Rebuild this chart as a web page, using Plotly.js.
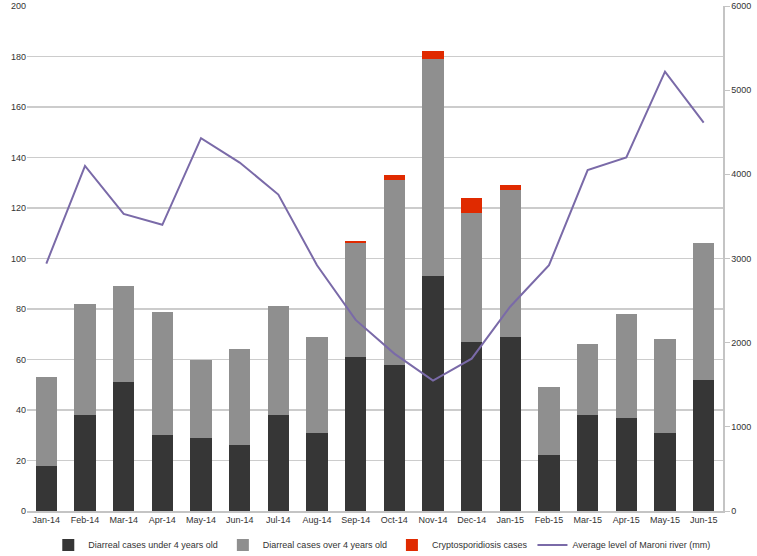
<!DOCTYPE html>
<html>
<head>
<meta charset="utf-8">
<script src="https://cdn.plot.ly/plotly-3.0.1.min.js"></script>
<style>html,body{margin:0;padding:0;background:#fff;}#chart{width:757px;height:556px;}</style>
</head>
<body>
<div id="chart"></div>
<script>
const months = ["Jan-14","Feb-14","Mar-14","Apr-14","May-14","Jun-14","Jul-14","Aug-14","Sep-14","Oct-14","Nov-14","Dec-14","Jan-15","Feb-15","Mar-15","Apr-15","May-15","Jun-15"];
const under4 = [18,38,51,30,29,26,38,31,61,58,93,67,69,22,38,37,31,52];
const over4 = [35,44,38,49,31,38,43,38,45,73,86,51,58,27,28,41,37,54];
const crypto = [0,0,0,0,0,0,0,0,1,2,3,6,2,0,0,0,0,0];
const riverLevel = [2940,4100,3530,3400,4430,4140,3760,2920,2270,1870,1550,1810,2430,2920,4050,4200,5220,4615];

const font = {family: "Liberation Sans, sans-serif", size: 9, color: "#333"};
const traces = [
  {type:"bar", name:"Diarreal cases under 4 years old", x:months, y:under4, marker:{color:"#363636"}},
  {type:"bar", name:"Diarreal cases over 4 years old", x:months, y:over4, marker:{color:"#8f8f8f"}},
  {type:"bar", name:"Cryptosporidiosis cases", x:months, y:crypto, marker:{color:"#e02a00"}},
  {type:"scatter", mode:"lines", name:"Average level of Maroni river (mm)", x:months, y:riverLevel, yaxis:"y2", line:{color:"#7a6aa8", width:2}}
];
const layout = {
  width:757, height:556,
  margin:{l:27, r:34, t:6, b:45},
  barmode:"stack", bargap:0.45,
  font:font,
  showlegend:true,
  legend:{orientation:"h", xref:"container", yref:"container", x:0.505, xanchor:"center", y:0.02, yanchor:"middle", font:font, traceorder:"normal", itemwidth:30},
  xaxis:{type:"category", showgrid:false, showline:true, linecolor:"#c4c4c4", linewidth:1.5, ticks:"", tickfont:font, automargin:false},
  yaxis:{range:[0,200], dtick:20, showgrid:true, gridcolor:"#cccccc", gridwidth:1.5, zeroline:false, showline:false, ticks:"", tickfont:font, automargin:false, ticklabeloverflow:"allow"},
  yaxis2:{range:[0,6000], dtick:1000, overlaying:"y", side:"right", showgrid:false, zeroline:false, showline:true, linecolor:"#c4c4c4", linewidth:1.5, ticks:"outside", ticklen:5, tickcolor:"#c4c4c4", tickfont:font, automargin:false, ticklabeloverflow:"allow"},
  plot_bgcolor:"#fff", paper_bgcolor:"#fff"
};
Plotly.newPlot("chart", traces, layout, {displayModeBar:false, staticPlot:true});
</script>
</body>
</html>
